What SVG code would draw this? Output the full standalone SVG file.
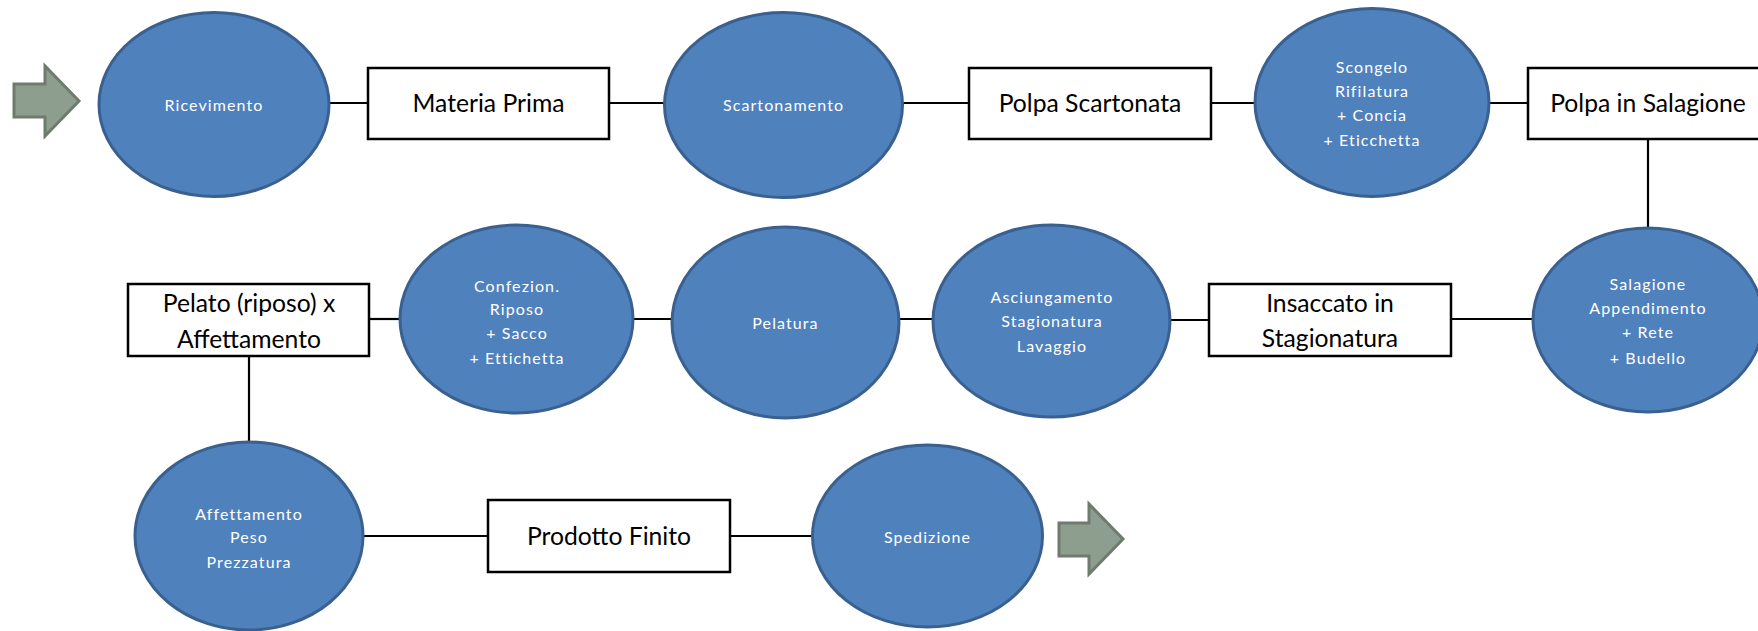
<svg xmlns="http://www.w3.org/2000/svg" width="1758" height="631" viewBox="0 0 1758 631">
<style>
.proc{fill:#4F81BD;stroke:#3A6090;stroke-width:3}
.box{fill:#FFFFFF;stroke:#000000;stroke-width:2.5}
.arrow{fill:#8E9E8E;stroke:#6E7C6E;stroke-width:3;stroke-linejoin:miter}
.conn{stroke:#000000;stroke-width:2.2;fill:none}
.pt{font-family:Lato,"Open Sans","Liberation Sans",sans-serif;font-size:16px;fill:#FFFFFF;text-anchor:middle;letter-spacing:1.1px}
.bt{font-family:Lato,"Open Sans","Liberation Sans",sans-serif;font-size:24.7px;fill:#000000;text-anchor:middle}
</style>
<rect width="1758" height="631" fill="#FFFFFF"/>
<g id="connectors">
<line class="conn" x1="330" y1="103" x2="368" y2="103"/>
<line class="conn" x1="609" y1="103" x2="664" y2="103"/>
<line class="conn" x1="903" y1="103" x2="969" y2="103"/>
<line class="conn" x1="1211" y1="103" x2="1254" y2="103"/>
<line class="conn" x1="1490" y1="103" x2="1528" y2="103"/>
<line class="conn" x1="1648" y1="139" x2="1648" y2="228"/>
<line class="conn" x1="1451" y1="319" x2="1533" y2="319"/>
<line class="conn" x1="1170" y1="320" x2="1209" y2="320"/>
<line class="conn" x1="899" y1="319" x2="933" y2="319"/>
<line class="conn" x1="633" y1="319" x2="672" y2="319"/>
<line class="conn" x1="369" y1="319" x2="400" y2="319"/>
<line class="conn" x1="249" y1="356" x2="249" y2="441"/>
<line class="conn" x1="363" y1="536" x2="488" y2="536"/>
<line class="conn" x1="730" y1="536" x2="812" y2="536"/>
</g>
<g id="arrow-in">
<polygon class="arrow" points="14,84 45,84 45,66 79,101 45,136 45,117 14,117"/>
</g>
<g id="ricevimento">
<ellipse class="proc" cx="214" cy="104.5" rx="115" ry="92"/>
<text class="pt" x="214" y="111">Ricevimento</text>
</g>
<g id="materia-prima">
<rect class="box" x="368" y="68" width="241" height="71"/>
<text class="bt" x="488.5" y="112">Materia Prima</text>
</g>
<g id="scartonamento">
<ellipse class="proc" cx="783.5" cy="105" rx="119" ry="92.5"/>
<text class="pt" x="783.5" y="111">Scartonamento</text>
</g>
<g id="polpa-scartonata">
<rect class="box" x="969" y="68" width="242" height="71"/>
<text class="bt" x="1090" y="112">Polpa Scartonata</text>
</g>
<g id="scongelo">
<ellipse class="proc" cx="1372" cy="102.5" rx="117" ry="94"/>
<text class="pt" x="1372" y="73">Scongelo</text>
<text class="pt" x="1372" y="97">Rifilatura</text>
<text class="pt" x="1372" y="121">+ Concia</text>
<text class="pt" x="1372" y="146">+ Eticchetta</text>
</g>
<g id="polpa-salagione">
<rect class="box" x="1528" y="68" width="240" height="71"/>
<text class="bt" x="1648" y="112">Polpa in Salagione</text>
</g>
<g id="salagione">
<ellipse class="proc" cx="1648" cy="320" rx="115" ry="92"/>
<text class="pt" x="1648" y="290">Salagione</text>
<text class="pt" x="1648" y="314">Appendimento</text>
<text class="pt" x="1648" y="338">+ Rete</text>
<text class="pt" x="1648" y="364">+ Budello</text>
</g>
<g id="insaccato">
<rect class="box" x="1209" y="284" width="242" height="72"/>
<text class="bt" x="1330" y="312">Insaccato in</text>
<text class="bt" x="1330" y="347">Stagionatura</text>
</g>
<g id="asciungamento">
<ellipse class="proc" cx="1051.5" cy="321" rx="118.5" ry="96"/>
<text class="pt" x="1052" y="303">Asciungamento</text>
<text class="pt" x="1052" y="327">Stagionatura</text>
<text class="pt" x="1052" y="352">Lavaggio</text>
</g>
<g id="pelatura">
<ellipse class="proc" cx="785.5" cy="322.5" rx="113.5" ry="95.5"/>
<text class="pt" x="785.5" y="329">Pelatura</text>
</g>
<g id="confezion">
<ellipse class="proc" cx="516.5" cy="319" rx="116.5" ry="94"/>
<text class="pt" x="517" y="292">Confezion.</text>
<text class="pt" x="517" y="315">Riposo</text>
<text class="pt" x="517" y="339">+ Sacco</text>
<text class="pt" x="517" y="364">+ Ettichetta</text>
</g>
<g id="pelato">
<rect class="box" x="128" y="284" width="241" height="72"/>
<text class="bt" x="249" y="312">Pelato (riposo) x</text>
<text class="bt" x="249" y="348">Affettamento</text>
</g>
<g id="affettamento">
<ellipse class="proc" cx="249" cy="536" rx="114" ry="94"/>
<text class="pt" x="249" y="520">Affettamento</text>
<text class="pt" x="249" y="543">Peso</text>
<text class="pt" x="249" y="568">Prezzatura</text>
</g>
<g id="prodotto-finito">
<rect class="box" x="488" y="500" width="242" height="72"/>
<text class="bt" x="609" y="545">Prodotto Finito</text>
</g>
<g id="spedizione">
<ellipse class="proc" cx="927.5" cy="536" rx="115" ry="91"/>
<text class="pt" x="927.5" y="543">Spedizione</text>
</g>
<g id="arrow-out">
<polygon class="arrow" points="1059,523 1089,523 1089,504 1123,539 1089,574 1089,556 1059,556"/>
</g>
</svg>
